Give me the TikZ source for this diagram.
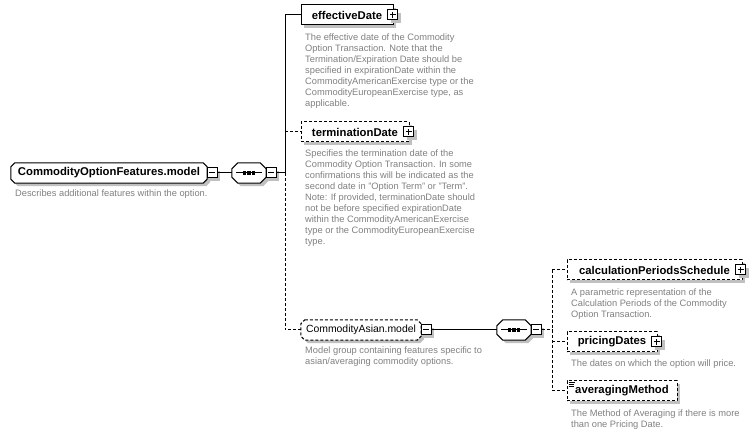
\documentclass[tikz,border=0pt]{standalone}
\usepackage{fontspec}
\setmainfont{Liberation Sans}
\usetikzlibrary{calc,shadows,backgrounds}
\definecolor{shadowc}{RGB}{192,192,192}
\definecolor{descc}{RGB}{128,128,128}
\newcommand\octpath[4]{($(#1.north west)+(#2+#3,#4)$) -- ($(#1.north east)+(-#2+#3,#4)$) -- ($(#1.north east)+(#3,#2+#4)$) -- ($(#1.south east)+(#3,-#2+#4)$) -- ($(#1.south east)+(-#2+#3,#4)$) -- ($(#1.south west)+(#2+#3,#4)$) -- ($(#1.south west)+(#3,-#2+#4)$) -- ($(#1.north west)+(#3,#2+#4)$) -- cycle}
\newcommand\octdraw[3]{%
  \begin{pgfonlayer}{background}
    \fill[shadowc] \octpath{#1}{#2}{3}{3};
    \fill[white] \octpath{#1}{#2}{0}{0};
  \end{pgfonlayer}
  \draw[line width=1pt,#3] \octpath{#1}{#2}{0}{0};
}
\tikzset{
  shadowed/.style={drop shadow={shadow xshift=3pt, shadow yshift=-3pt, fill=shadowc, opacity=1}},
  opt/.style={dash pattern=on 3pt off 2pt},
  conn/.style={line width=1pt},
  elem/.style={rectangle, draw, fill=white, line width=1pt, inner sep=0, minimum height=20pt,
    font=\fontsize{11.3}{13}\selectfont\bfseries, shadowed},
  grp/.style={rectangle, inner sep=0, minimum height=20pt},
  seqbox/.style={rectangle, inner sep=0, minimum width=34pt, minimum height=20pt,
    path picture={
      \draw[line width=1pt] ([xshift=-13pt]path picture bounding box.center) -- ([xshift=13pt]path picture bounding box.center);
      \foreach \d in {-4.4,0,4.4} \fill ([xshift=\d pt]path picture bounding box.center) +(-1.6,-1.6) rectangle +(1.6,1.6);
    }},
  pmbase/.style={rectangle, draw, fill=white, line width=1pt, inner sep=0, minimum size=10pt, shadowed},
  minusbox/.style={pmbase, path picture={
      \draw[line width=1pt] ([xshift=-3pt]path picture bounding box.center) -- ([xshift=3pt]path picture bounding box.center);}},
  plusbox/.style={pmbase, path picture={
      \draw[line width=1pt] ([xshift=-3pt]path picture bounding box.center) -- ([xshift=3pt]path picture bounding box.center);
      \draw[line width=1pt] ([yshift=-3pt]path picture bounding box.center) -- ([yshift=3pt]path picture bounding box.center);}},
  desc/.style={anchor=north west, inner sep=0, align=left, text=descc, font=\fontsize{9.3}{11}\selectfont},
}
\begin{document}
\begin{tikzpicture}[x=1pt,y=-1pt]
\useasboundingbox (0,0) rectangle (756,435);

% main model group
\node[grp, minimum width=196pt, font=\fontsize{11.3}{13}\selectfont\bfseries] (main) at (109,173) {CommodityOptionFeatures.model};
\octdraw{main}{4}{}
\node[minusbox] (main-pm) at ($(main.east)+(5,0)$) {};
\node[desc] (main-d) at (15,188.6) {\strut Describes additional features within the option.};

% sequence 1
\node[seqbox] (seq1) at (249,173) {};
\octdraw{seq1}{6}{}
\node[minusbox] (seq1-pm) at ($(seq1.east)+(5,0)$) {};
\coordinate (j1) at (285,173);

% effectiveDate
\node[elem, minimum width=92pt] (ed) at (347,15) {effectiveDate};
\node[plusbox] (ed-pm) at ($(ed.east)+(-1,0)$) {};
\node[desc] (ed-d) at (305,32.6) {\strut The effective date of the Commodity\\Option Transaction. Note that the\\Termination/Expiration Date should be\\specified in expirationDate within the\\CommodityAmericanExercise type or the\\CommodityEuropeanExercise type, as\\applicable.};

% terminationDate
\node[elem, opt, minimum width=108pt] (td) at (355,132) {terminationDate};
\node[plusbox] (td-pm) at ($(td.east)+(-1,0)$) {};
\node[desc] (td-d) at (305,149) {\strut Specifies the termination date of the\\Commodity Option Transaction. In some\\confirmations this will be indicated as the\\second date in "Option Term" or "Term".\\Note: If provided, terminationDate should\\not be before specified expirationDate\\within the CommodityAmericanExercise\\type or the CommodityEuropeanExercise\\type.};

% CommodityAsian.model
\node[grp, minimum width=120pt, font=\fontsize{10.4}{12}\selectfont] (ca) at (361,330) {CommodityAsian.model};
\octdraw{ca}{4}{opt}
\node[minusbox] (ca-pm) at ($(ca.east)+(5,0)$) {};
\node[desc] (ca-d) at (305,345.6) {\strut Model group containing features specific to\\asian/averaging commodity options.};

% sequence 2
\node[seqbox] (seq2) at (514,330) {};
\octdraw{seq2}{6}{}
\node[minusbox] (seq2-pm) at ($(seq2.east)+(5,0)$) {};
\coordinate (j2) at (552,330);

% calculationPeriodsSchedule
\node[elem, opt, minimum width=175pt] (cps) at (654.5,270) {calculationPeriodsSchedule};
\node[plusbox] (cps-pm) at ($(cps.east)+(-2,0)$) {};
\node[desc] (cps-d) at (571,287.6) {\strut A parametric representation of the\\Calculation Periods of the Commodity\\Option Transaction.};

% pricingDates
\node[elem, opt, minimum width=90pt] (pd) at (612,342) {pricingDates};
\node[plusbox] (pd-pm) at ($(pd.east)+(-1,0)$) {};
\node[desc] (pd-d) at (571,358.6) {\strut The dates on which the option will price.};

% averagingMethod
\node[elem, opt, minimum width=110pt] (am) at (622,391) {averagingMethod};
\draw[line width=0.8pt] ($(am.north west)+(2,2)$) -- ++(6,0)
  ($(am.north west)+(2,4.2)$) -- ++(5,0)
  ($(am.north west)+(2,6.4)$) -- ++(5,0);
\node[desc] (am-d) at (571,408.6) {\strut The Method of Averaging if there is more\\than one Pricing Date.};

% connectors
\draw[conn] (main-pm.east) -- (seq1.west);
\draw[conn] (seq1-pm.east) -- (j1);
\draw[conn] (ed.west) -| (j1);
\draw[conn,opt] (td.west -| j1) -- (td.west);
\draw[conn,opt] (j1) |- (ca.west);
\draw[conn] (ca-pm.east) -- (seq2.west);
\draw[conn,opt] (seq2-pm.east) -- (j2);
\draw[conn,opt] (cps.west -| j2) -- (am.west -| j2);
\draw[conn,opt] (cps.west -| j2) -- (cps.west);
\draw[conn,opt] (pd.west -| j2) -- (pd.west);
\draw[conn,opt] (am.west -| j2) -- (am.west);
\end{tikzpicture}
\end{document}
